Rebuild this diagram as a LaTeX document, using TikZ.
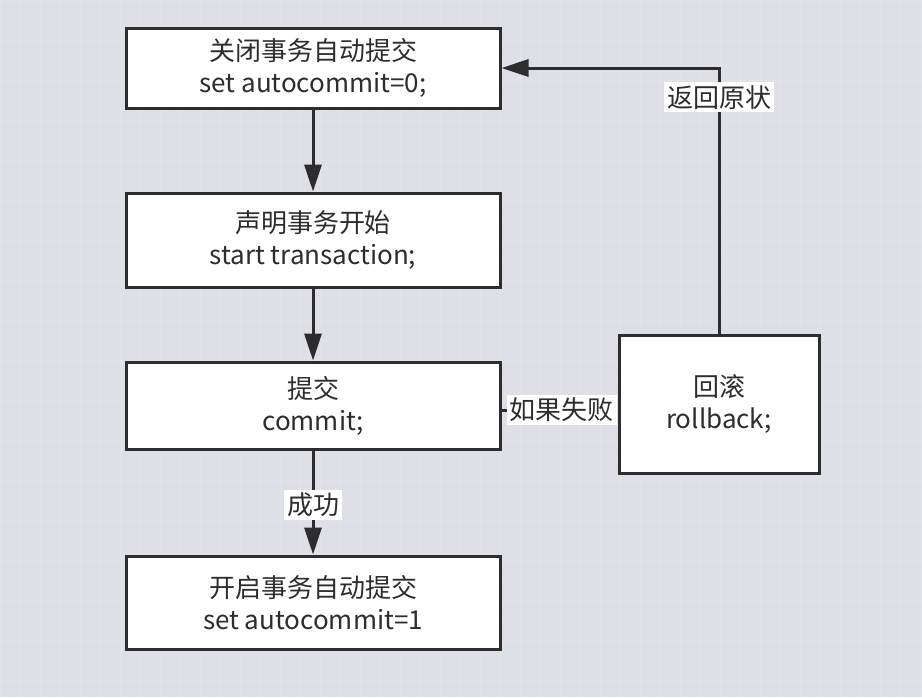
\documentclass[tikz,border=0pt]{standalone}
\usepackage{fontspec}
\usepackage{xcolor}
\usepackage{tikz}
\usetikzlibrary{arrows.meta}
\setmainfont{Noto Sans CJK SC}
\definecolor{bgcol}{RGB}{223,224,229}
\definecolor{inkcol}{RGB}{45,45,45}

\begin{document}
\begin{tikzpicture}[x=0.5pt,y=-0.5pt,
  stepbox/.style={draw=inkcol,line width=1.5pt,fill=white,text=inkcol,align=center,
    font=\fontsize{13pt}{16pt}\selectfont,inner sep=0pt},
  tag/.style={fill=white,text=inkcol,font=\fontsize{13pt}{15pt}\selectfont,inner sep=1.5pt},
  flow/.style={draw=inkcol,line width=1.5pt,-{Triangle[length=13.5pt,width=8.5pt]}}]
\fill[bgcol] (0,0) rectangle (922,697);
\useasboundingbox (0,0) rectangle (922,697);
% grid texture
\foreach \i in {0,20,...,920} \draw[white,opacity=0.12,line width=0.4pt] (\i,0) -- (\i,697);
\foreach \j in {0,20,...,680} \draw[white,opacity=0.12,line width=0.4pt] (0,\j) -- (922,\j);

\node[stepbox,minimum width=187pt,minimum height=40pt] (off) at (313,68) {关闭事务自动提交\\set autocommit=0;};
\node[stepbox,minimum width=187pt,minimum height=47pt] (begin) at (313,240) {声明事务开始\\start transaction;};
\node[stepbox,minimum width=187pt,minimum height=43.5pt] (commit) at (313,405.5) {提交\\commit;};
\node[stepbox,minimum width=187pt,minimum height=46.5pt] (on) at (313,602.5) {开启事务自动提交\\set autocommit=1};
\node[stepbox,minimum width=100pt,minimum height=69pt] (undo) at (719,404) {回滚\\rollback;};

\draw[flow] (off) -- (begin);
\draw[flow] (begin) -- (commit);
\draw[flow] (commit) -- node[tag,pos=0.52] {成功} (on);
\draw[flow] (commit.east |- 0,410) -- node[tag,pos=0.52] {如果失败} (undo.west |- 0,410);
\draw[flow] (undo.north) -- (719,68) node[tag,pos=0.89] {返回原状} -- (off.east);
\end{tikzpicture}
\end{document}
